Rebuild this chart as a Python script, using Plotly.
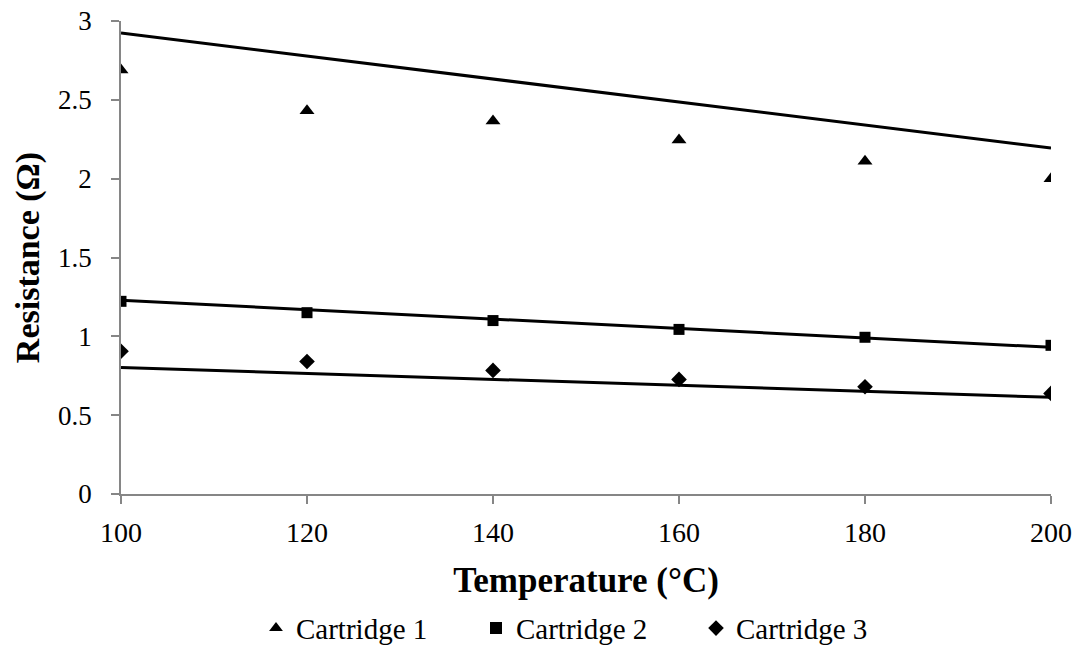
import plotly.graph_objects as go

temperature = [100, 120, 140, 160, 180, 200]
cartridge1 = [2.69, 2.43, 2.365, 2.245, 2.11, 2.0]
cartridge2 = [1.222, 1.15, 1.10, 1.044, 0.994, 0.943]
cartridge3 = [0.905, 0.84, 0.784, 0.727, 0.68, 0.638]

line_x = [100, 200]
line1 = [2.924, 2.194]
line2 = [1.229, 0.930]
line3 = [0.803, 0.613]

names = ["Cartridge 1", "Cartridge 2", "Cartridge 3"]
symbols = ["triangle-up", "square", "diamond"]
sizes = [13, 11, 12]

FONT = "Liberation Serif, Times New Roman, serif"

fig = go.Figure()
for ly in [line1, line2, line3]:
    fig.add_trace(go.Scatter(x=line_x, y=ly, mode="lines",
                             line=dict(color="black", width=3),
                             showlegend=False, hoverinfo="skip"))
for name, ys, sym, sz in zip(names, [cartridge1, cartridge2, cartridge3], symbols, sizes):
    fig.add_trace(go.Scatter(x=temperature, y=ys, mode="markers", name=name,
                             marker=dict(symbol=sym, size=sz, color="black")))

fig.update_layout(
    width=1079, height=645,
    paper_bgcolor="white", plot_bgcolor="white",
    margin=dict(l=121, r=28, t=21, b=151),
    font=dict(family=FONT, size=26, color="black"),
    legend=dict(orientation="h", x=0.5, xanchor="center",
                yref="container", y=0.026, yanchor="middle",
                font=dict(family=FONT, size=29), entrywidth=175,
                itemsizing="constant"),
    xaxis=dict(range=[100, 200], tickvals=temperature, showgrid=False, zeroline=False,
               automargin=False,
               showline=True, linecolor="#868686", linewidth=1.5,
               ticks="outside", ticklen=8, tickcolor="#868686", tickwidth=1.5,
               tickfont=dict(family=FONT, size=28), ticklabelstandoff=5,
               title=dict(text="<b>Temperature (°C)</b>", font=dict(family=FONT, size=35),
                          standoff=20)),
    yaxis=dict(range=[0, 3], tickvals=[0, 0.5, 1, 1.5, 2, 2.5, 3],
               ticktext=["0", "0.5", "1", "1.5", "2", "2.5", "3"],
               showgrid=False, zeroline=False, automargin=False,
               showline=True, linecolor="#868686", linewidth=1.5,
               ticks="outside", ticklen=8, tickcolor="#868686", tickwidth=1.5,
               tickfont=dict(family=FONT, size=27), ticklabelstandoff=14,
               title=dict(text="<b>Resistance (Ω)</b>", font=dict(family=FONT, size=34),
                          standoff=8)),
)

fig.write_html("out.html")
